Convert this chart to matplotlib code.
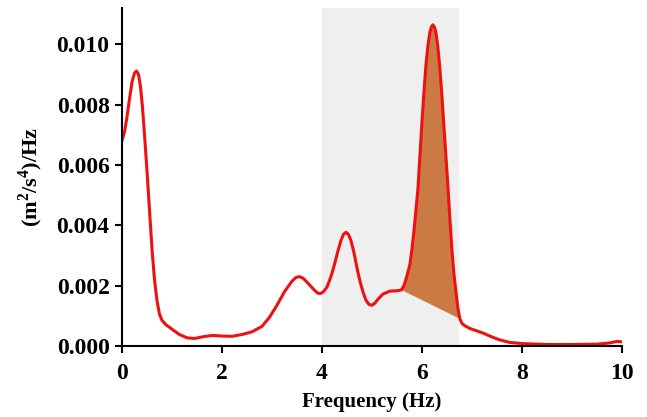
import matplotlib
matplotlib.use('Agg')
import matplotlib.pyplot as plt
import numpy as np

plt.rcParams['font.family'] = ['Liberation Serif', 'DejaVu Serif']
plt.rcParams['font.weight'] = 'bold'
plt.rcParams['mathtext.fontset'] = 'custom'
plt.rcParams['mathtext.rm'] = 'Liberation Serif:bold'
plt.rcParams['mathtext.bf'] = 'Liberation Serif:bold'

# PSD curve (frequency in Hz, value in 1e-3 (m2/s4)/Hz)
freq = [0.00, 0.05, 0.10, 0.15, 0.20, 0.25, 0.29, 0.33, 0.37, 0.41, 0.45, 0.50,
        0.55, 0.60, 0.65, 0.70, 0.75, 0.80, 0.88, 0.95, 1.02, 1.15, 1.30, 1.45,
        1.60, 1.80, 2.00, 2.20, 2.40, 2.60, 2.80, 2.95, 3.10, 3.25, 3.40, 3.48,
        3.55, 3.62, 3.70, 3.85, 3.92, 3.97, 4.03, 4.10, 4.18, 4.25, 4.32, 4.38,
        4.43, 4.48, 4.53, 4.58, 4.64, 4.70, 4.76, 4.82, 4.88, 4.94, 5.00, 5.06,
        5.12, 5.22, 5.36, 5.50, 5.59, 5.64, 5.68, 5.72, 5.76, 5.80, 5.84, 5.88,
        5.92, 5.96, 6.00, 6.04, 6.08, 6.12, 6.16, 6.19, 6.22, 6.25, 6.28, 6.32,
        6.36, 6.40, 6.44, 6.48, 6.52, 6.56, 6.60, 6.64, 6.68, 6.72, 6.76, 6.80,
        6.85, 6.96, 7.10, 7.22, 7.40, 7.56, 7.75, 8.00, 8.50, 9.00, 9.50, 9.75,
        9.90, 10.0]
psd = [6.82, 7.10, 7.60, 8.20, 8.75, 9.05, 9.12, 9.00, 8.60, 7.90, 7.00, 5.80,
       4.50, 3.20, 2.20, 1.50, 1.05, 0.85, 0.70, 0.62, 0.53, 0.38, 0.27, 0.25,
       0.30, 0.35, 0.33, 0.32, 0.38, 0.47, 0.65, 0.95, 1.35, 1.80, 2.15, 2.27,
       2.30, 2.25, 2.12, 1.85, 1.75, 1.74, 1.80, 1.95, 2.30, 2.70, 3.15, 3.50,
       3.70, 3.77, 3.70, 3.50, 3.10, 2.60, 2.15, 1.80, 1.52, 1.38, 1.35, 1.42,
       1.55, 1.72, 1.82, 1.83, 1.86, 2.00, 2.20, 2.45, 2.70, 3.20, 3.80, 4.50,
       5.20, 6.30, 7.40, 8.40, 9.30, 9.95, 10.40, 10.58, 10.65, 10.58, 10.40, 9.90,
       9.20, 8.30, 7.30, 6.30, 5.30, 4.20, 3.20, 2.40, 1.80, 1.25, 0.90, 0.75,
       0.68, 0.58, 0.50, 0.43, 0.30, 0.20, 0.12, 0.08, 0.05, 0.05, 0.06, 0.10,
       0.15, 0.14]

band = (4.0, 6.75)          # shaded frequency band
peak_range = (5.59, 6.76)   # filled peak area

x = np.array(freq)
y = np.array(psd) / 1000.0

fig = plt.figure(figsize=(6.47, 4.17), dpi=100)
ax = fig.add_axes([0.1886, 0.1703, 0.7725, 0.81])

ax.axvspan(band[0], band[1], color='#efefef', zorder=0, lw=0)

m = (x >= peak_range[0]) & (x <= peak_range[1])
ax.fill(x[m], y[m], color='#cc7a43', zorder=1, lw=0)

ax.plot(x, y, color='#ee1111', lw=2.2, zorder=2, solid_joinstyle='round')

ax.set_xlim(0, 10)
ax.set_ylim(0, 0.0112)
ax.set_xticks([0, 2, 4, 6, 8, 10])
ax.set_yticks([0.000, 0.002, 0.004, 0.006, 0.008, 0.010])
ax.set_yticklabels(['0.000', '0.002', '0.004', '0.006', '0.008', '0.010'])

for s in ['top', 'right']:
    ax.spines[s].set_visible(False)
for s in ['left', 'bottom']:
    ax.spines[s].set_linewidth(1.5)
ax.tick_params(direction='out', length=5, width=1.5, labelsize=17, pad=4)
ax.tick_params(axis='x', pad=7)
for lab in ax.get_xticklabels() + ax.get_yticklabels():
    lab.set_fontweight('bold')

ax.set_xlabel('Frequency (Hz)', fontsize=15, fontweight='bold', labelpad=6)
ax.set_ylabel(r'(m$^{2}$/s$^{4}$)/Hz', fontsize=16, fontweight='bold', labelpad=8)

plt.savefig('out.png', dpi=100)
